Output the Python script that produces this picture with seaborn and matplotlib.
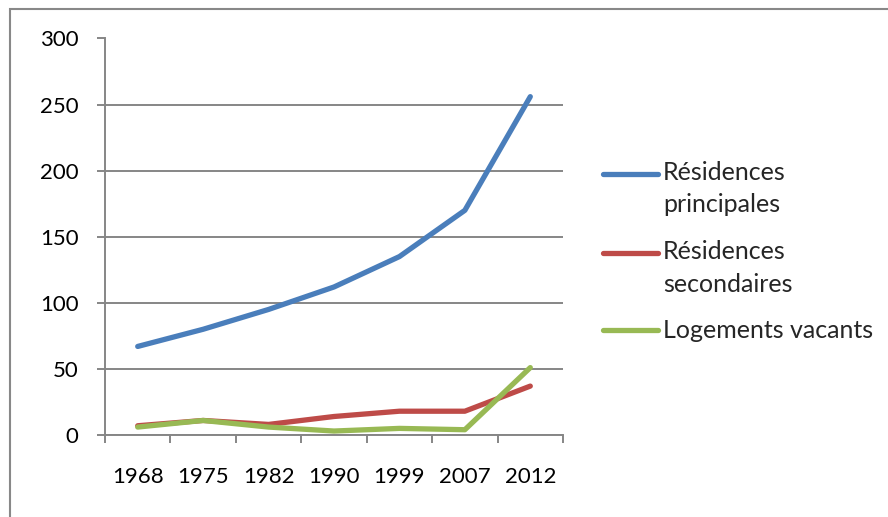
import matplotlib
matplotlib.use("Agg")
import matplotlib.pyplot as plt
import seaborn as sns
import pandas as pd
import numpy as np
from matplotlib.patches import Rectangle
from matplotlib.ticker import FixedLocator

years = ["1968", "1975", "1982", "1990", "1999", "2007", "2012"]
principales = [67, 80, 95, 112, 135, 170, 256]
secondaires = [7, 11, 8, 14, 18, 18, 37]
vacants = [6, 11, 6, 3, 5, 4, 51]
series_names = ["Résidences\nprincipales", "Résidences\nsecondaires", "Logements vacants"]
colors = ["#4A7EBB", "#BE4B48", "#98B954"]
yticks = [0, 50, 100, 150, 200, 250, 300]

df = pd.DataFrame({
    "year": years * 3,
    "value": principales + secondaires + vacants,
    "serie": [series_names[0]] * 7 + [series_names[1]] * 7 + [series_names[2]] * 7,
})

sns.set_theme(style="white")
plt.rcParams["font.family"] = ["Lato", "DejaVu Sans"]

W, H = 888, 517
fig = plt.figure(figsize=(W / 100, H / 100), dpi=100)
ax = fig.add_axes([105 / W, 1 - 435 / H, (563 - 105) / W, (435 - 38.5) / H])

sns.lineplot(data=df, x="year", y="value", hue="serie", palette=colors,
             linewidth=3.8, ax=ax, sort=False, legend=True)
for ln in ax.lines:
    ln.set_solid_capstyle("round")
    ln.set_solid_joinstyle("round")

ax.set_xlim(-0.5, 6.5)
ax.set_ylim(0, 300)
ax.set_yticks(yticks)
ax.set_yticklabels([str(v) for v in yticks])
ax.set_xticks(range(len(years)))
ax.set_xticklabels(years)
ax.xaxis.set_minor_locator(FixedLocator([i - 0.5 for i in range(len(years) + 1)]))
ax.set_xlabel("")
ax.set_ylabel("")

grid_c = "#868686"
ax.yaxis.grid(True, color=grid_c, linewidth=1.4)
ax.set_axisbelow(True)
for s in ["top", "right"]:
    ax.spines[s].set_visible(False)
for s in ["left", "bottom"]:
    ax.spines[s].set_visible(True)
    ax.spines[s].set_color(grid_c)
    ax.spines[s].set_linewidth(1.4)

ax.tick_params(axis="y", which="major", direction="out", length=6, width=1.4,
               color=grid_c, left=True, labelsize=16, pad=13, labelcolor="black")
ax.tick_params(axis="x", which="major", length=0, labelsize=16, pad=23, labelcolor="black")
ax.tick_params(axis="x", which="minor", direction="out", length=6, width=1.4,
               color=grid_c, bottom=True)

handles, labels = ax.get_legend_handles_labels()
leg = ax.legend(handles, labels, loc="upper left", bbox_to_anchor=(603 / W, 1 - 161 / H),
                bbox_transform=fig.transFigure, frameon=False, fontsize=18,
                handlelength=2.2, handletextpad=0.2, labelspacing=0.95, borderpad=0,
                borderaxespad=0)
for t in leg.get_texts():
    t.set_linespacing(1.5)
for h, lab in zip(leg.get_lines(), labels):
    h.set_linewidth(3.8)
    if "\n" in lab:
        yd = np.asarray(h.get_ydata(), dtype=float)
        h.set_ydata(yd + 11.5)

fig.patches.append(Rectangle((10 / W, -0.05), 1.1, 1 - 9 / H + 0.05, transform=fig.transFigure,
                             fill=False, edgecolor="#888888", linewidth=1.5))

fig.savefig("out.png", dpi=100)
